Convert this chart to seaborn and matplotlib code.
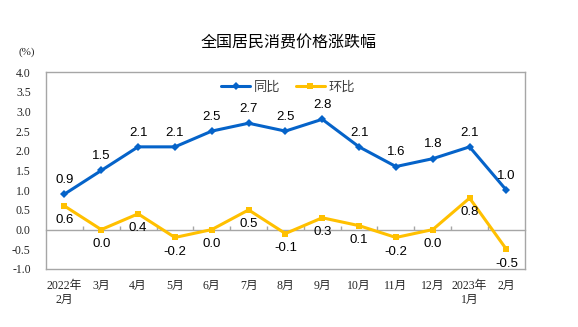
import matplotlib
matplotlib.use("Agg")
import matplotlib.pyplot as plt
import seaborn as sns
import pandas as pd
import numpy as np

# Monthly CPI change (%), Feb 2022 - Feb 2023
months = ["2022年\n2月", "3月", "4月", "5月", "6月", "7月", "8月", "9月",
          "10月", "11月", "12月", "2023年\n1月", "2月"]
yoy = [0.9, 1.5, 2.1, 2.1, 2.5, 2.7, 2.5, 2.8, 2.1, 1.6, 1.8, 2.1, 1.0]
mom = [0.6, 0.0, 0.4, -0.2, 0.0, 0.5, -0.1, 0.3, 0.1, -0.2, 0.0, 0.8, -0.5]
series_names = ["同比", "环比"]
yticks = [4.0, 3.5, 3.0, 2.5, 2.0, 1.5, 1.0, 0.5, 0.0, -0.5, -1.0]

sns.set_theme(style="white")
plt.rcParams["font.family"] = ["Noto Sans CJK SC", "DejaVu Sans"]

BLUE = "#0563C9"
YELLOW = "#FFC000"
GRAY = "#A6A6A6"

df = pd.DataFrame({
    "idx": list(range(len(months))) * 2,
    "value": yoy + mom,
    "series": [series_names[0]] * len(yoy) + [series_names[1]] * len(mom),
})

fig = plt.figure(figsize=(5.78, 3.27), dpi=100)
ax = fig.add_axes([0.0796, 0.1774, 0.8284, 0.6024])

sns.lineplot(data=df, x="idx", y="value", hue="series", style="series",
             palette=[BLUE, YELLOW], markers=["D", "s"], dashes=False,
             linewidth=2.2, markersize=4.2, markeredgewidth=0, ax=ax)

ax.set_xlim(-0.5, len(months) - 0.5)
ax.set_ylim(-1.0, 4.0)
ax.set_xlabel("")
ax.set_ylabel("")

# Data labels
for i, v in enumerate(yoy):
    ax.annotate(f"{v:.1f}", (i, v), xytext=(0, 6), textcoords="offset points",
                ha="center", va="bottom", fontsize=9.5, color="black",
                family=["Liberation Sans", "DejaVu Sans"])
for i, v in enumerate(mom):
    ax.annotate(f"{v:.1f}", (i, v), xytext=(0, -6), textcoords="offset points",
                ha="center", va="top", fontsize=9.5, color="black",
                family=["Liberation Sans", "DejaVu Sans"])

# Axes frame
for s in ax.spines.values():
    s.set_color(GRAY)
    s.set_linewidth(1.0)
    s.set_visible(True)

ax.set_yticks(yticks)
ax.set_yticklabels([f"{t:.1f}" for t in yticks],
                   family=["Liberation Serif", "DejaVu Serif"], fontsize=8.5)
ax.tick_params(axis="y", direction="in", length=2, color="#D9D9D9", pad=11)

ax.set_xticks(range(len(months)))
ax.set_xticklabels(months, family=["Liberation Serif", "Noto Sans CJK SC"],
                   fontsize=8.5, linespacing=1.25)
ax.tick_params(axis="x", length=0, pad=8)

# Zero line with category separators
zero_ax = ax.secondary_xaxis((0 - (-1.0)) / 5.0)
zero_ax.set_xticks(np.arange(len(months) - 1) + 0.5)
zero_ax.tick_params(direction="in", length=3, color=GRAY, labelbottom=False,
                    labeltop=False, width=1.0)
zero_ax.set_xticklabels([])
for s in zero_ax.spines.values():
    s.set_color(GRAY)
    s.set_linewidth(1.0)

leg = ax.legend(loc="upper center", bbox_to_anchor=(0.505, 1.015), ncol=2,
                frameon=False, fontsize=9.5, handlelength=2.2,
                columnspacing=1.2, handletextpad=0.25)
for t in leg.get_texts():
    t.set_color("#404040")

fig.text(0.5, 0.87, "全国居民消费价格涨跌幅", ha="center", va="center",
         fontsize=11.5, color="black")
fig.text(0.047, 0.84, "(%)", ha="center", va="center", fontsize=8,
         family=["Liberation Serif", "DejaVu Serif"])

fig.savefig("out.png", dpi=100, facecolor="white")
